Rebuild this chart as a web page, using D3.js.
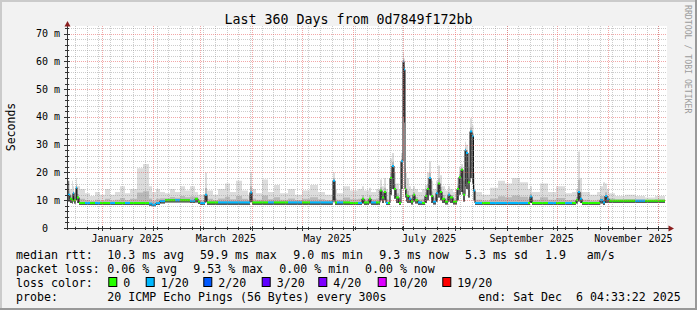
<!DOCTYPE html>
<html>
<head>
<meta charset="utf-8">
<script src="https://cdn.jsdelivr.net/npm/d3@7"></script>
<style>
html, body { margin: 0; padding: 0; background: #f2f2f2; }
svg { display: block; font-family: "DejaVu Sans Mono", monospace; }
text { white-space: pre; }
</style>
</head>
<body>
<svg id="chart"></svg>
<script>
// smokeping style graph, 360 days, one step per sample (day offset from start)
const dayOffset = [
    0.0, 0.6, 1.8, 3.0, 3.6, 4.2, 5.4, 6.0, 7.2, 7.8,
    10.8, 13.8, 16.8, 19.8, 22.8, 25.8, 28.8, 31.8, 34.8, 37.8,
    42.0, 45.6, 49.2, 51.0, 53.4, 55.8, 58.8, 61.8, 64.8, 67.8,
    70.8, 73.8, 76.8, 78.6, 79.8, 82.8, 84.0, 87.6, 90.6, 94.8,
    97.8, 101.4, 105.0, 108.6, 109.8, 111.0, 113.4, 117.0, 120.6, 124.2,
    127.8, 132.6, 136.8, 141.0, 145.8, 150.6, 154.8, 159.6, 160.8, 162.0,
    165.6, 169.8, 174.6, 177.0, 178.2, 181.2, 182.4, 185.4, 187.8, 189.0,
    190.2, 191.4, 192.6, 193.8, 195.0, 196.2, 197.4, 199.2, 200.4, 201.6,
    202.2, 202.8, 203.4, 204.0, 205.2, 206.4, 207.6, 208.8, 210.6, 213.0,
    214.8, 216.0, 217.2, 218.4, 219.6, 221.4, 222.6, 223.8, 225.0, 226.8,
    228.6, 229.8, 231.6, 234.0, 235.2, 236.4, 237.6, 238.8, 239.4, 240.6,
    241.8, 243.0, 243.9, 244.8, 249.0, 253.8, 258.6, 262.8, 267.0, 271.8,
    276.6, 277.8, 279.0, 283.8, 288.6, 293.4, 298.8, 303.0, 305.4, 306.6,
    307.8, 309.0, 313.8, 318.0, 319.8, 321.6, 322.8, 324.0, 325.2, 328.8,
    334.8, 340.8, 346.8, 352.8
];
const lastDay = 358.8;

// median rtt in ms
const medianMs = [
    17.0, 12.0, 10.5, 10.0, 12.5, 10.0, 14.5, 11.0, 9.0, 9.0,
    9.0, 9.0, 9.0, 9.0, 9.0, 9.0, 9.0, 9.0, 9.0, 9.0,
    9.0, 9.0, 8.8, 8.4, 9.0, 9.7, 10.0, 10.0, 10.0, 10.0,
    10.0, 9.8, 10.5, 9.5, 9.0, 12.0, 9.2, 9.2, 9.2, 9.2,
    9.2, 9.2, 9.2, 9.2, 12.8, 9.2, 9.2, 9.2, 9.2, 9.2,
    9.2, 9.2, 9.2, 9.2, 9.2, 9.2, 9.2, 17.0, 9.2, 9.2,
    9.2, 9.0, 9.0, 10.5, 9.2, 10.5, 9.2, 9.2, 13.5, 11.0,
    13.0, 9.0, 9.0, 18.0, 22.3, 14.0, 11.0, 9.0, 24.0, 59.9,
    57.0, 14.0, 12.0, 11.5, 10.5, 9.5, 12.0, 10.0, 9.2, 9.0,
    11.5, 14.0, 18.0, 11.5, 9.5, 12.5, 16.0, 13.0, 10.5, 9.5,
    12.0, 11.0, 9.5, 14.0, 18.3, 21.0, 12.0, 28.0, 27.0, 16.5,
    34.7, 33.0, 13.5, 9.0, 9.0, 9.0, 9.0, 9.0, 9.0, 9.0,
    9.0, 11.3, 9.0, 9.0, 9.0, 9.0, 9.0, 9.0, 10.0, 13.0,
    10.5, 9.0, 9.0, 9.0, 10.0, 9.2, 11.5, 10.5, 9.8, 9.8,
    9.8, 9.8, 9.8, 9.8
];

// packet loss bucket per sample (index into lossColors)
const lossIdx = [
    1, 1, 0, 0, 1, 0, 1, 0, 0, 0,
    1, 0, 1, 0, 0, 1, 0, 0, 1, 0,
    0, 0, 1, 1, 1, 1, 0, 0, 1, 0,
    0, 1, 0, 0, 1, 1, 0, 0, 1, 1,
    1, 1, 1, 1, 1, 0, 0, 0, 1, 0,
    0, 1, 1, 0, 1, 1, 1, 1, 0, 1,
    0, 0, 1, 0, 0, 0, 1, 0, 0, 0,
    0, 1, 0, 0, 1, 0, 0, 0, 1, 1,
    1, 0, 0, 0, 1, 0, 0, 0, 1, 0,
    0, 0, 1, 0, 1, 1, 0, 0, 0, 0,
    1, 0, 0, 0, 0, 0, 0, 1, 1, 0,
    1, 1, 1, 1, 0, 1, 1, 1, 1, 1,
    0, 1, 0, 0, 1, 0, 1, 0, 0, 1,
    1, 0, 0, 0, 1, 1, 1, 1, 0, 0,
    0, 1, 0, 0
];

// smoke: fastest and slowest ping of the 20, ms
const smokeLoMs = [
    11.0, 9.5, 9.0, 8.8, 9.5, 8.8, 10.0, 9.0, 8.3, 8.3,
    8.3, 8.3, 8.3, 8.3, 8.3, 8.3, 8.3, 8.3, 8.3, 8.3,
    8.3, 8.3, 8.0, 7.8, 8.3, 8.8, 9.2, 9.2, 9.2, 9.2,
    9.2, 9.0, 9.2, 8.6, 8.3, 9.5, 8.3, 8.3, 8.3, 8.3,
    8.3, 8.3, 8.3, 8.3, 9.5, 8.3, 8.3, 8.3, 8.3, 8.3,
    8.3, 8.3, 8.3, 8.3, 8.3, 8.3, 8.3, 10.0, 8.3, 8.3,
    8.3, 8.3, 8.3, 8.8, 8.3, 8.8, 8.3, 8.3, 10.0, 9.0,
    10.0, 8.3, 8.3, 12.0, 14.0, 10.5, 9.0, 8.3, 14.0, 40.0,
    38.0, 11.0, 9.5, 9.0, 9.0, 8.5, 9.5, 8.8, 8.3, 8.3,
    9.0, 10.0, 12.0, 9.0, 8.5, 9.5, 11.0, 10.0, 9.0, 8.5,
    9.5, 9.0, 8.5, 10.0, 12.0, 13.0, 9.5, 15.0, 14.0, 11.0,
    18.0, 16.0, 10.0, 8.3, 8.3, 8.3, 8.3, 8.3, 8.3, 8.3,
    8.3, 9.0, 8.3, 8.3, 8.3, 8.3, 8.3, 8.3, 8.8, 9.5,
    9.0, 8.3, 8.3, 8.3, 8.8, 8.3, 9.0, 9.0, 9.0, 9.0,
    9.0, 9.0, 9.0, 9.0
];
const smokeHiMs = [
    19.0, 17.0, 14.0, 17.0, 15.0, 13.0, 18.0, 15.0, 15.0, 14.0,
    12.5, 11.5, 13.0, 12.0, 14.0, 12.0, 13.0, 15.0, 12.5, 14.0,
    21.5, 23.0, 15.0, 13.0, 14.0, 13.0, 12.5, 14.0, 13.0, 15.0,
    13.5, 15.0, 13.0, 12.0, 12.0, 20.0, 13.5, 12.0, 14.0, 16.0,
    13.0, 17.0, 13.5, 12.0, 20.0, 14.0, 12.5, 17.5, 13.0, 15.5,
    12.5, 14.0, 12.0, 13.5, 15.5, 13.0, 12.0, 20.0, 14.0, 12.5,
    15.0, 13.5, 14.0, 15.0, 13.5, 14.5, 13.0, 14.0, 17.5, 15.0,
    18.0, 14.0, 13.0, 25.0, 27.0, 20.0, 16.0, 14.0, 27.0, 63.0,
    61.0, 22.0, 20.0, 18.0, 15.0, 14.0, 15.0, 14.0, 13.0, 14.0,
    15.5, 20.0, 24.0, 17.0, 14.0, 17.0, 22.5, 19.0, 15.0, 13.5,
    15.0, 14.0, 13.0, 18.0, 22.0, 23.0, 17.0, 31.0, 30.0, 22.0,
    39.5, 37.0, 20.0, 13.0, 12.0, 14.5, 17.0, 16.0, 18.0, 16.5,
    14.0, 15.0, 13.0, 16.0, 13.0, 15.0, 12.5, 13.0, 14.0, 27.5,
    18.0, 13.0, 12.0, 13.0, 15.0, 16.5, 16.0, 14.0, 12.5, 11.5,
    12.0, 11.5, 11.0, 11.5
];

const lossLabels = ["0", "1/20", "2/20", "3/20", "4/20", "10/20", "19/20"];
const lossColors = ["#26ff00", "#00b8ff", "#0059ff", "#5e00ff", "#7e00ff", "#dd00ff", "#ff0000"];

const yTicks = [0, 10, 20, 30, 40, 50, 60, 70];
const yTickLabels = ["0  ", "10 m", "20 m", "30 m", "40 m", "50 m", "60 m", "70 m"];

const statLines = [
    [[16, "median rtt:"], [107.3, "10.3 ms avg"], [200, "59.9 ms max"], [293.3, "9.0 ms min"],
     [379.3, "9.3 ms now"], [465, "5.3 ms sd"], [545, "1.9"], [586.7, "am/s"]],
    [[16, "packet loss:"], [107.3, "0.06 % avg"], [193.3, "9.53 % max"], [279.3, "0.00 % min"],
     [365, "0.00 % now"]],
    [[16, "loss color:"]],
    [[16, "probe:"], [107.3, "20 ICMP Echo Pings (56 Bytes) every 300s"],
     [478.3, "end: Sat Dec  6 04:33:22 2025"]]
];
const lossLabelX = [123.3, 160.7, 218.3, 276.7, 333.3, 392.7, 457.3];

const width = 697, height = 310;
const plotL = 67, plotR = 667, plotT = 26, plotB = 228;

const endTime = Date.UTC(2025, 11, 6, 4, 33, 22);
const startTime = endTime - 360 * 864e5;
const dayMs = 864e5;

const x = d3.scaleUtc().domain([new Date(startTime), new Date(endTime)]).range([plotL, plotR]);
const y = d3.scaleLinear().domain([0, 72.7]).range([plotB, plotT]);

const samples = dayOffset.map((d, i) => ({
    t: new Date(startTime + d * dayMs),
    med: medianMs[i], loss: lossIdx[i], lo: smokeLoMs[i], hi: smokeHiMs[i]
}));
// close the last step
const stepped = samples.concat([Object.assign({}, samples[samples.length - 1],
    { t: new Date(startTime + lastDay * dayMs) })]);

const svg = d3.select("#chart")
    .attr("width", width)
    .attr("height", height)
    .attr("viewBox", [0, 0, width, height]);

// background + 3d frame
svg.append("rect").attr("width", width).attr("height", height).attr("fill", "#f2f2f2");
svg.append("rect").attr("x", 0).attr("y", 0).attr("width", width).attr("height", 2).attr("fill", "#cbcbcb");
svg.append("rect").attr("x", 0).attr("y", 0).attr("width", 2).attr("height", height).attr("fill", "#cbcbcb");
svg.append("rect").attr("x", 0).attr("y", height - 2).attr("width", width).attr("height", 2).attr("fill", "#999");
svg.append("rect").attr("x", width - 2).attr("y", 0).attr("width", 2).attr("height", height).attr("fill", "#999");

// canvas
svg.append("rect")
    .attr("x", plotL).attr("y", plotT)
    .attr("width", plotR - plotL).attr("height", plotB - plotT)
    .attr("fill", "#fff");

svg.append("clipPath").attr("id", "plot")
    .append("rect").attr("x", plotL).attr("y", plotT)
    .attr("width", plotR - plotL).attr("height", plotB - plotT);

const plot = svg.append("g").attr("clip-path", "url(#plot)");

// smoke
const smoke = (y0, y1) => d3.area().curve(d3.curveStepAfter)
    .x(d => x(d.t)).y0(d => y(y0(d))).y1(d => y(y1(d)));

plot.append("path").datum(stepped)
    .attr("fill", "#dcdcdc")
    .attr("d", smoke(d => d.lo, d => d.hi));
plot.append("path").datum(stepped)
    .attr("fill", "#b9b9b9")
    .attr("d", smoke(d => d.lo, d => d.med + (d.hi - d.med) * 0.3));
plot.append("path").datum(stepped)
    .attr("fill", "#5a5a5a")
    .attr("d", smoke(d => d.lo, d => d.med));

// grid
const minorY = d3.range(2, 73, 2).filter(v => v % 10 !== 0);
const grid = svg.append("g").attr("stroke-dasharray", "1,1").attr("stroke-width", 1);

grid.selectAll(".hmin").data(minorY).join("line")
    .attr("x1", plotL).attr("x2", plotR)
    .attr("y1", d => Math.round(y(d)) + 0.5).attr("y2", d => Math.round(y(d)) + 0.5)
    .attr("stroke", "rgba(143,143,143,0.45)");

const weeks = d3.utcMonday.range(new Date(startTime), new Date(endTime));
const months = d3.utcMonth.range(new Date(startTime), new Date(endTime));

grid.selectAll(".vmin").data(weeks).join("line")
    .attr("x1", d => Math.round(x(d)) + 0.5).attr("x2", d => Math.round(x(d)) + 0.5)
    .attr("y1", plotT).attr("y2", plotB)
    .attr("stroke", "rgba(143,143,143,0.45)");

grid.selectAll(".hmaj").data(yTicks.slice(1)).join("line")
    .attr("x1", plotL).attr("x2", plotR)
    .attr("y1", d => Math.round(y(d)) + 0.5).attr("y2", d => Math.round(y(d)) + 0.5)
    .attr("stroke", "rgba(230,80,80,0.5)");

grid.selectAll(".vmaj").data(months).join("line")
    .attr("x1", d => Math.round(x(d)) + 0.5).attr("x2", d => Math.round(x(d)) + 0.5)
    .attr("y1", plotT).attr("y2", plotB)
    .attr("stroke", "rgba(230,80,80,0.5)");

// median: black steps, loss-coloured levels
plot.append("path").datum(stepped)
    .attr("fill", "none")
    .attr("stroke", "#111")
    .attr("stroke-width", 1)
    .attr("d", d3.line().curve(d3.curveStepAfter).x(d => x(d.t)).y(d => y(d.med)));

plot.selectAll(".med").data(samples).join("line")
    .attr("x1", d => x(d.t))
    .attr("x2", (d, i) => x(stepped[i + 1].t))
    .attr("y1", d => y(d.med)).attr("y2", d => y(d.med))
    .attr("stroke", d => lossColors[d.loss])
    .attr("stroke-width", 2);

// axes
const axisColor = "#333", arrowColor = "#8b1e1e";
svg.append("line").attr("x1", plotL + 0.5).attr("x2", plotL + 0.5)
    .attr("y1", plotB + 2).attr("y2", 24).attr("stroke", axisColor);
svg.append("line").attr("x1", 64).attr("x2", 670)
    .attr("y1", plotB + 0.5).attr("y2", plotB + 0.5).attr("stroke", axisColor);
svg.append("path").attr("d", "M64.5,26.5 L70.5,26.5 L67.5,21 Z").attr("fill", arrowColor);
svg.append("path").attr("d", "M668.5,225.5 L668.5,231.5 L674,228.5 Z").attr("fill", arrowColor);

// ticks
svg.selectAll(".ytm").data(minorY).join("line")
    .attr("x1", plotL - 2).attr("x2", plotL + 2)
    .attr("y1", d => Math.round(y(d)) + 0.5).attr("y2", d => Math.round(y(d)) + 0.5)
    .attr("stroke", axisColor);
svg.selectAll(".ytM").data(yTicks).join("line")
    .attr("x1", plotL - 3).attr("x2", plotL + 3)
    .attr("y1", d => Math.round(y(d)) + 0.5).attr("y2", d => Math.round(y(d)) + 0.5)
    .attr("stroke", axisColor);
svg.selectAll(".xtm").data(weeks).join("line")
    .attr("x1", d => Math.round(x(d)) + 0.5).attr("x2", d => Math.round(x(d)) + 0.5)
    .attr("y1", plotB - 1).attr("y2", plotB + 2)
    .attr("stroke", axisColor);
svg.selectAll(".xtM").data(months).join("line")
    .attr("x1", d => Math.round(x(d)) + 0.5).attr("x2", d => Math.round(x(d)) + 0.5)
    .attr("y1", plotB - 2).attr("y2", plotB + 3)
    .attr("stroke", axisColor);

// y labels
svg.selectAll(".ylab").data(yTicks).join("text")
    .attr("x", 60).attr("y", d => y(d) + 3.5)
    .attr("text-anchor", "end")
    .attr("font-size", 10)
    .attr("fill", "#000")
    .text((d, i) => yTickLabels[i]);

// x labels: every second month, centred on the month
const labelMonths = months.filter(m => m.getUTCMonth() % 2 === 0);
svg.selectAll(".xlab").data(labelMonths).join("text")
    .attr("x", d => (x(d) + x(d3.utcMonth.offset(d, 1))) / 2)
    .attr("y", 242)
    .attr("text-anchor", "middle")
    .attr("font-size", 10)
    .attr("fill", "#000")
    .text(d => d3.utcFormat("%B %Y")(d));

// title, axis label, watermark
svg.append("text").attr("x", 348.5).attr("y", 24)
    .attr("text-anchor", "middle").attr("font-size", 13.3).attr("fill", "#000")
    .text("Last 360 Days from 0d7849f172bb");

svg.append("text")
    .attr("transform", "translate(15,127) rotate(-90)")
    .attr("text-anchor", "middle").attr("font-size", 11.5).attr("fill", "#000")
    .text("Seconds");

svg.append("text")
    .attr("transform", "translate(684.5,5) rotate(90)")
    .attr("font-size", 8.2).attr("fill", "#9c9c9c")
    .text("RRDTOOL / TOBI OETIKER");

// legend
const lineY = [258.5, 272.5, 286.5, 300.5];
statLines.forEach((pieces, row) => {
    svg.selectAll(".leg" + row).data(pieces).join("text")
        .attr("x", d => d[0]).attr("y", lineY[row])
        .attr("font-size", 11.6).attr("fill", "#000")
        .text(d => d[1]);
});

svg.selectAll(".lossbox").data(lossColors).join("rect")
    .attr("x", (d, i) => lossLabelX[i] - 14.5)
    .attr("y", 277.5)
    .attr("width", 8).attr("height", 9)
    .attr("fill", d => d)
    .attr("stroke", "#000");

svg.selectAll(".losslab").data(lossLabels).join("text")
    .attr("x", (d, i) => lossLabelX[i]).attr("y", lineY[2])
    .attr("font-size", 11.6).attr("fill", "#000")
    .text(d => d);
</script>
</body>
</html>
